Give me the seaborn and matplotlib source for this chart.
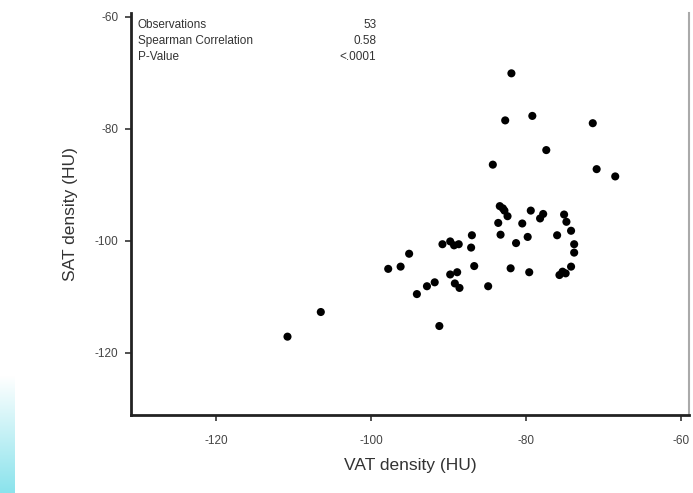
"""SAT vs VAT density scatter with Spearman inset."""
import matplotlib
matplotlib.use("Agg")
import matplotlib.pyplot as plt
import numpy as np
import pandas as pd
import seaborn as sns

# --- data ---
vat_density = [
    -81.9, -82.7, -79.2, -71.4, -77.4, -84.3, -70.9, -68.5,
    -87.0, -90.8, -89.8, -88.7, -89.3, -87.1, -95.1, -97.8, -96.2, -86.7,
    -89.8, -88.9, -91.8, -92.8, -94.1, -89.2, -88.6, -84.9, -91.2,
    -106.5, -110.8,
    -83.4, -83.0, -82.8, -82.4, -83.6, -83.3, -79.4, -78.2, -77.8, -80.5,
    -79.8, -81.3, -75.1, -74.8, -74.2, -76.0, -73.8, -73.8, -74.2, -75.3,
    -75.7, -74.9, -82.0, -79.6,
]
sat_density = [
    -70.1, -78.5, -77.7, -79.0, -83.8, -86.4, -87.2, -88.5,
    -99.0, -100.6, -100.1, -100.6, -100.8, -101.2, -102.3, -105.0, -104.6, -104.5,
    -106.0, -105.6, -107.4, -108.1, -109.5, -107.6, -108.4, -108.1, -115.2,
    -112.7, -117.1,
    -93.8, -94.2, -94.6, -95.6, -96.8, -98.9, -94.6, -96.0, -95.2, -96.9,
    -99.3, -100.4, -95.3, -96.6, -98.2, -99.0, -100.6, -102.1, -104.6, -105.5,
    -106.1, -105.8, -104.9, -105.6,
]
stat_labels = ["Observations", "Spearman Correlation", "P-Value"]
stat_values = ["53", "0.58", "<.0001"]
x_ticks = [-120, -100, -80, -60]
y_ticks = [-120, -100, -80, -60]

df = pd.DataFrame({"vat": vat_density, "sat": sat_density})

sns.set_style("white")
plt.rcParams["font.family"] = ["Liberation Sans", "DejaVu Sans"]
plt.rcParams["axes.unicode_minus"] = False

fig = plt.figure(figsize=(6.93, 4.93), dpi=100)
ax = fig.add_axes([0.189, 0.158, 0.805, 0.816])

sns.scatterplot(data=df, x="vat", y="sat", ax=ax, color="black",
                s=34, edgecolor="none", legend=False)

ax.set_xlim(-131, -59)
ax.set_ylim(-131.1, -59.3)
ax.set_xticks(x_ticks)
ax.set_yticks(y_ticks)
ax.tick_params(axis="both", direction="out", length=4, width=1.2,
               labelsize=8.5, labelcolor="#444444", color="#333333",
               bottom=True, left=True)
ax.tick_params(axis="x", pad=10)
ax.tick_params(axis="y", pad=5)
ax.set_xlabel("VAT density (HU)", fontsize=12.5, color="#333333", labelpad=8)
ax.set_ylabel("SAT density (HU)", fontsize=12.5, color="#333333", labelpad=12)

for side in ["left", "bottom"]:
    ax.spines[side].set_color("#222222")
    ax.spines[side].set_linewidth(2)
ax.spines["right"].set_color("#aaaaaa")
ax.spines["right"].set_linewidth(1.5)
ax.spines["top"].set_visible(False)

# inset stats table
for i, (lab, val) in enumerate(zip(stat_labels, stat_values)):
    yy = 0.985 - i * 0.040
    ax.text(0.012, yy, lab, transform=ax.transAxes, fontsize=8.5,
            color="#333333", va="top", ha="left")
    ax.text(0.44, yy, val, transform=ax.transAxes, fontsize=8.5,
            color="#333333", va="top", ha="right")

# cyan slide strip at the lower left edge
strip = fig.add_axes([0, 0, 15 / 693, 118 / 493])
grad = np.linspace(0, 1, 100).reshape(-1, 1)
cmap = matplotlib.colors.LinearSegmentedColormap.from_list(
    "strip", ["#ffffff", "#8be3ec"])
strip.imshow(grad, aspect="auto", cmap=cmap, origin="upper")
strip.axis("off")

fig.savefig("out.png", dpi=100)
